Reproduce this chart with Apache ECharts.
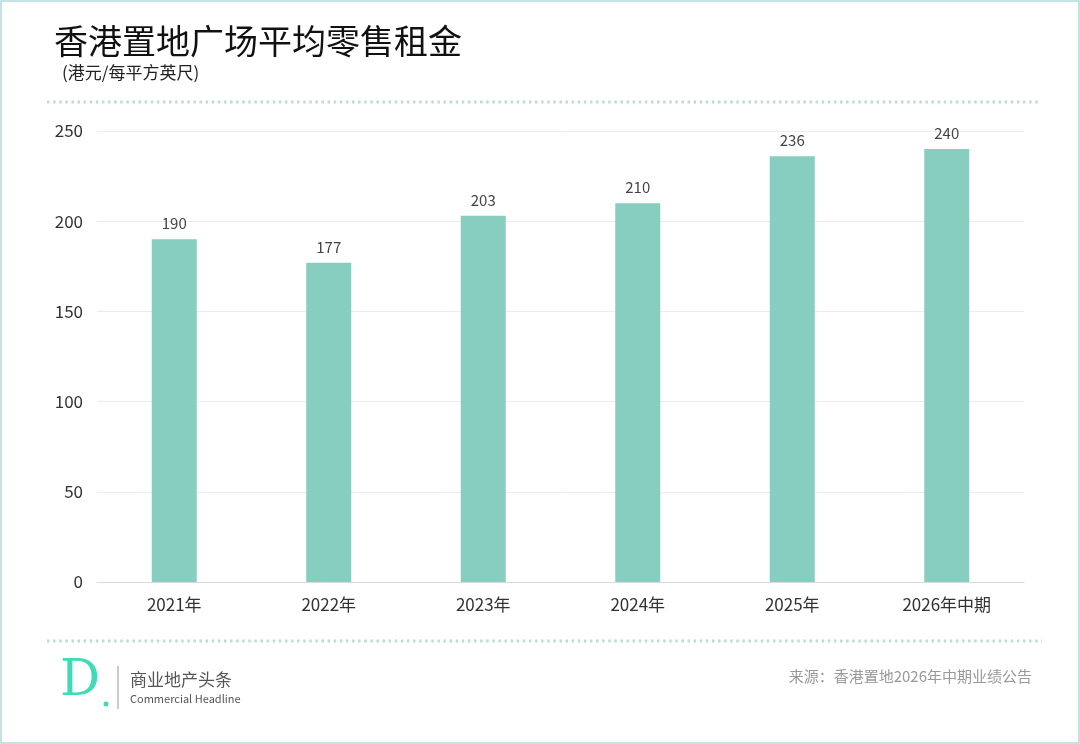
<!DOCTYPE html>
<html>
<head>
<meta charset="utf-8">
<script src="https://cdn.jsdelivr.net/npm/echarts@6/dist/echarts.min.js"></script>
<style>
  html, body { margin: 0; padding: 0; background: #fff; }
  #chart { width: 1080px; height: 744px; box-sizing: border-box; border: 2px solid #c3e3e5; }
</style>
</head>
<body>
<div id="chart"></div>
<script>
// 数据
const categories = ['2021年', '2022年', '2023年', '2024年', '2025年', '2026年中期'];
const rentValues = [190, 177, 203, 210, 236, 240];
const yTicks = [0, 50, 100, 150, 200, 250];

const FONT = '"Noto Sans CJK SC", "Noto Sans", sans-serif';

const chart = echarts.init(document.getElementById('chart'), null, { renderer: 'canvas' });

const option = {
  backgroundColor: '#fff',
  animation: false,
  textStyle: { fontFamily: FONT },
  grid: {
    left: 95,
    right: 54,
    top: 129,
    bottom: 160
  },
  xAxis: {
    type: 'category',
    data: categories,
    axisLine: { lineStyle: { color: '#d9d9d9' } },
    axisTick: { show: false },
    axisLabel: { color: '#333', fontSize: 17, margin: 14, fontFamily: FONT }
  },
  yAxis: {
    type: 'value',
    min: yTicks[0],
    max: yTicks[yTicks.length - 1],
    interval: 50,
    axisLine: { show: false },
    axisTick: { show: false },
    axisLabel: { color: '#333', fontSize: 17, margin: 14, fontFamily: FONT },
    splitLine: { lineStyle: { color: '#ececec' } }
  },
  series: [
    {
      type: 'bar',
      data: rentValues,
      barWidth: 45,
      itemStyle: { color: '#88cec0' },
      label: {
        show: true,
        position: 'top',
        distance: 8,
        color: '#444',
        fontSize: 15,
        fontFamily: FONT
      }
    }
  ],
  graphic: [
    {
      type: 'text',
      left: 52,
      top: 22,
      style: { text: '香港置地广场平均零售租金', fontSize: 34, fill: '#111', fontFamily: FONT }
    },
    {
      type: 'text',
      left: 60,
      top: 62,
      style: { text: '(港元/每平方英尺)', fontSize: 17, fill: '#222', fontFamily: FONT }
    },
    {
      type: 'line',
      shape: { x1: 45, y1: 100, x2: 1036, y2: 100 },
      style: { stroke: '#bcdcdc', lineWidth: 3, lineDash: [2.5, 3.6] }
    },
    {
      type: 'line',
      shape: { x1: 45, y1: 639, x2: 1040, y2: 639 },
      style: { stroke: '#bcdcdc', lineWidth: 3, lineDash: [2.5, 3.6] }
    },
    // logo
    {
      type: 'text',
      left: 58,
      top: 655,
      style: { text: 'D', fontSize: 50, fill: '#3fdbb9', fontFamily: '"DejaVu Serif", serif', fontWeight: 'normal' }
    },
    {
      type: 'circle',
      shape: { cx: 104, cy: 702, r: 2.5 },
      style: { fill: '#3fdbb9' }
    },
    {
      type: 'line',
      shape: { x1: 116, y1: 664, x2: 116, y2: 707 },
      style: { stroke: '#999', lineWidth: 1 }
    },
    {
      type: 'text',
      left: 128,
      top: 669,
      style: { text: '商业地产头条', fontSize: 17, fill: '#555', fontFamily: FONT }
    },
    {
      type: 'text',
      left: 128,
      top: 691,
      style: { text: 'Commercial Headline', fontSize: 11, fill: '#555', fontFamily: FONT }
    },
    {
      type: 'text',
      right: 46,
      top: 667,
      style: { text: '来源：香港置地2026年中期业绩公告', fontSize: 15, fill: '#999', fontFamily: FONT }
    }
  ]
};

chart.setOption(option);
</script>
</body>
</html>
